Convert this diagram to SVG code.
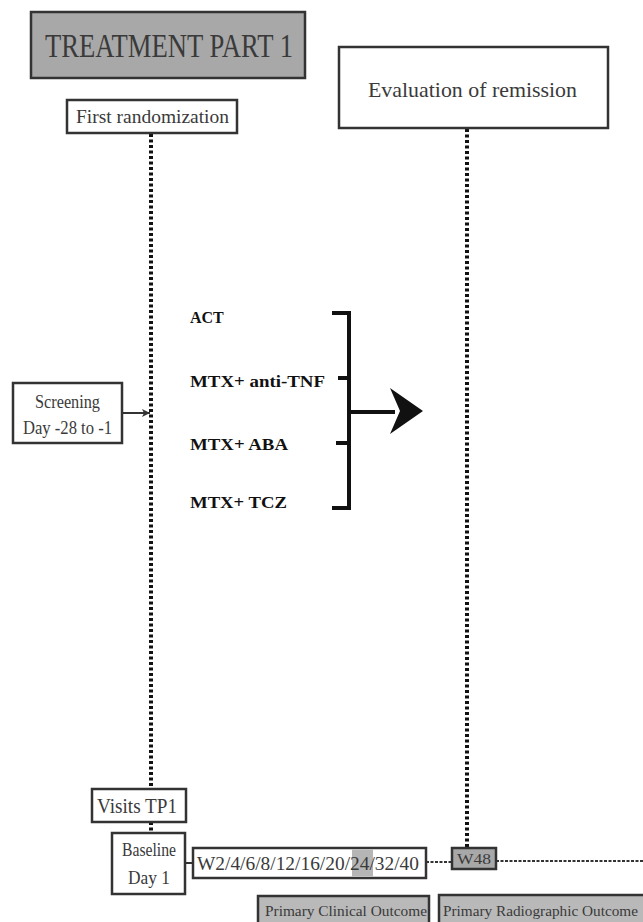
<svg xmlns="http://www.w3.org/2000/svg" width="643" height="922" viewBox="0 0 643 922">
<style>
.box{fill:#fff;stroke:#333;stroke-width:2.5}
.gbox{fill:#a8a8a8;stroke:#333;stroke-width:2.5}
.lbox{fill:#b9b9b9;stroke:#333;stroke-width:2.5}
.t{font-family:"Liberation Serif","Times New Roman","DejaVu Serif",serif;fill:#3a3a3a}
.b{font-family:"Liberation Serif","Times New Roman","DejaVu Serif",serif;font-weight:bold;fill:#111;font-size:16px}
.dot{stroke:#111;stroke-width:4;stroke-dasharray:3 2.5;fill:none}
.hdot{stroke:#333;stroke-width:2;stroke-dasharray:3 1.5;fill:none}
.br{stroke:#111;stroke-width:4;fill:none}
</style>
<defs>
<marker id="ah" markerWidth="10" markerHeight="10" refX="9" refY="5" orient="auto" markerUnits="userSpaceOnUse">
<path d="M1,1 L9,5 L1,9 L3,5 Z" fill="#333"/>
</marker>
</defs>
<rect width="643" height="922" fill="#fff"/>
<g id="connectors">
<line class="dot" x1="151" y1="134" x2="151" y2="789"/>
<line class="dot" x1="151" y1="822" x2="151" y2="833"/>
<line class="dot" x1="467" y1="129" x2="467" y2="848"/>
<line x1="122" y1="413" x2="150" y2="413" stroke="#333" stroke-width="2" marker-end="url(#ah)"/>
<line x1="185" y1="863" x2="193" y2="863" stroke="#333" stroke-width="2"/>
<line class="hdot" x1="426" y1="862" x2="452" y2="862"/>
<line class="hdot" x1="496" y1="861" x2="643" y2="861"/>
<path class="br" d="M332,313 H349 V508 H332 M338,378 H349 M336,443 H349 M349,412 H395"/>
<path d="M423,411 L390,388 L400,411 L390,434 Z" fill="#111"/>
</g>
<g id="title">
<rect class="gbox" x="31" y="12" width="274" height="66"/>
<text class="t" x="45" y="57" font-size="33" textLength="248" lengthAdjust="spacingAndGlyphs" fill="#333">TREATMENT PART 1</text>
</g>
<g id="first-randomization">
<rect class="box" x="67" y="100" width="170" height="33"/>
<text class="t" x="76" y="123" font-size="19" textLength="153" lengthAdjust="spacingAndGlyphs">First randomization</text>
</g>
<g id="evaluation">
<rect class="box" x="339" y="47" width="269" height="81"/>
<text class="t" x="368" y="97" font-size="22" textLength="209" lengthAdjust="spacingAndGlyphs">Evaluation of remission</text>
</g>
<g id="screening">
<rect class="box" x="13" y="383" width="109" height="60"/>
<text class="t" x="35" y="408" font-size="18" textLength="65" lengthAdjust="spacingAndGlyphs">Screening</text>
<text class="t" x="23" y="434" font-size="18" textLength="89" lengthAdjust="spacingAndGlyphs">Day -28 to -1</text>
</g>
<g id="treatments">
<text class="b" x="190" y="323">ACT</text>
<text class="b" x="190" y="387" textLength="135" lengthAdjust="spacingAndGlyphs">MTX+ anti-TNF</text>
<text class="b" x="190" y="450" textLength="98" lengthAdjust="spacingAndGlyphs">MTX+ ABA</text>
<text class="b" x="190" y="508" textLength="97" lengthAdjust="spacingAndGlyphs">MTX+ TCZ</text>
</g>
<g id="visits-tp1">
<rect class="box" x="92" y="789" width="94" height="33"/>
<text class="t" x="97" y="813" font-size="20" textLength="80" lengthAdjust="spacingAndGlyphs">Visits TP1</text>
</g>
<g id="baseline">
<rect class="box" x="112" y="833" width="73" height="61"/>
<text class="t" x="122" y="856" font-size="18" textLength="54" lengthAdjust="spacingAndGlyphs">Baseline</text>
<text class="t" x="128" y="884" font-size="18" textLength="42" lengthAdjust="spacingAndGlyphs">Day 1</text>
</g>
<g id="weeks">
<rect class="box" x="193" y="848" width="233" height="30"/>
<rect x="352" y="849.5" width="21" height="27" fill="#b5b5b5"/>
<text class="t" x="197" y="870" font-size="19" textLength="222" lengthAdjust="spacingAndGlyphs">W2/4/6/8/12/16/20/24/32/40</text>
</g>
<g id="w48">
<rect class="gbox" x="452" y="848" width="44" height="21" fill="#b0b0b0"/>
<text class="t" x="457" y="864" font-size="15" textLength="34" lengthAdjust="spacingAndGlyphs">W48</text>
</g>
<g id="primary-clinical">
<rect class="lbox" x="258" y="896" width="171" height="30"/>
<text class="t" x="265" y="916" font-size="15" textLength="162" lengthAdjust="spacingAndGlyphs">Primary Clinical Outcome</text>
</g>
<g id="primary-radiographic">
<rect class="lbox" x="439" y="895" width="210" height="31"/>
<text class="t" x="443" y="916" font-size="15" textLength="195" lengthAdjust="spacingAndGlyphs">Primary Radiographic Outcome</text>
</g>
</svg>
